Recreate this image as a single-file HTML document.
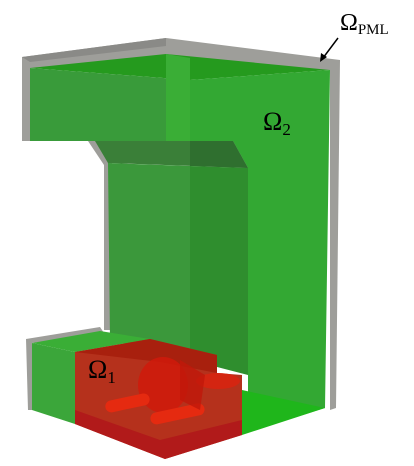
<!DOCTYPE html>
<html><head><meta charset="utf-8"><style>
html,body{margin:0;padding:0;background:#fff;width:414px;height:466px;overflow:hidden}
svg{display:block}
text{font-family:"Liberation Serif","DejaVu Serif",serif;fill:#000}
</style></head><body>
<svg width="414" height="466" viewBox="0 0 414 466">
<g>
 <polygon points="22,57 166,38 340,60 336,408 330,410 330,70 30,68 30,141 22,141" fill="#9e9e9a"/>
 <polygon points="22,57 166,38 166,46 30,62" fill="#8a8a87"/>
 <polygon points="88,141 100,141 112,163 112,330 104,330 104,165" fill="#9e9e9a"/>
 <polygon points="26,339 100,327 104,333 32,343 32,410 28,410" fill="#9e9e9a"/>
</g>
<g>
 <polygon points="30,68 166,54 330,70 190,80" fill="#259a1e"/>
 <polygon points="30,68 190,80 190,141 30,141" fill="#399b3a"/>
 <polygon points="166,54 190,58 190,141 166,141" fill="#3aae36"/>
 <polygon points="190,80 330,70 325,408 248,432 248,168 233,141 190,141" fill="#33a833"/>
 <polygon points="95,141 233,141 248,168 108,163" fill="#3a7f38"/>
 <polygon points="190,141 233,141 248,168 190,166" fill="#2f6f2f"/>
 <polygon points="108,163 190,166 190,360 110,340" fill="#3b983b"/>
 <polygon points="190,166 248,168 248,375 190,360" fill="#2f8e2e"/>
 <polygon points="32,343 100,331 150,339 75,352" fill="#3aae36"/>
 <polygon points="32,343 75,352 75,424 32,410" fill="#3ba63a"/>
 <polygon points="242,390 325,408 242,435" fill="#1fb61b"/>
</g>
<g>
 <polygon points="75,352 150,339 217,355 217,373 242,375 242,435 165,459 75,424" fill="#b5311c"/>
 <polygon points="75,352 150,339 217,355 217,373 160,362" fill="#a8200e"/>
 <polygon points="75,424 165,459 242,435 242,420 160,440 75,410" fill="#b11a1a"/>
 <ellipse cx="163" cy="385" rx="25" ry="28" fill="#d01a0a" opacity="0.85"/>
 <rect x="105" y="397" width="45" height="12" rx="6" fill="#e52a10" transform="rotate(-12 127 403)"/>
 <rect x="150" y="408" width="55" height="12" rx="6" fill="#e52a10" transform="rotate(-12 177 414)"/>
 <ellipse cx="218" cy="381" rx="22" ry="8" fill="#d9230f" opacity="0.85"/>
 <polygon points="180,360 205,375 200,410 180,400" fill="#c0180a" opacity="0.8"/>
</g>
<text x="340" y="30" font-size="24">Ω<tspan font-size="15" dy="4">PML</tspan></text>
<line x1="338" y1="38" x2="323" y2="58" stroke="#000" stroke-width="1.5"/>
<polygon points="320,62 321,53 327,57" fill="#000"/>
<text x="263" y="130" font-size="26">Ω<tspan font-size="17" dy="5">2</tspan></text>
<text x="88" y="378" font-size="26">Ω<tspan font-size="17" dy="5">1</tspan></text>
</svg>
</body></html>
